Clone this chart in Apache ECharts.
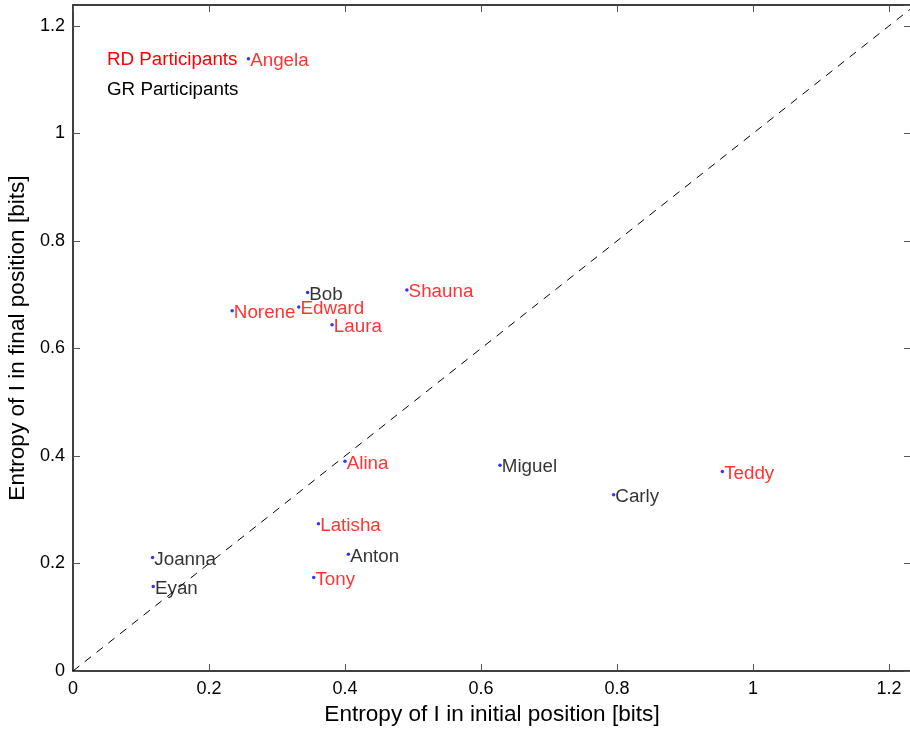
<!DOCTYPE html>
<html>
<head>
<meta charset="utf-8">
<script src="https://cdn.jsdelivr.net/npm/echarts@6/dist/echarts.min.js"></script>
<style>html,body{margin:0;padding:0;background:#fff}#c{width:910px;height:731px}</style>
</head>
<body>
<div id="c"></div>
<script>
const rdNames = ['Angela','Norene','Edward','Laura','Shauna','Alina','Latisha','Tony','Teddy'];
const rdX = [0.258, 0.234, 0.332, 0.381, 0.491, 0.400, 0.361, 0.354, 0.955];
const rdY = [1.139, 0.670, 0.677, 0.644, 0.709, 0.390, 0.274, 0.174, 0.371];
const grNames = ['Bob','Joanna','Eyan','Anton','Miguel','Carly'];
const grX = [0.345, 0.117, 0.118, 0.405, 0.628, 0.795];
const grY = [0.704, 0.211, 0.157, 0.217, 0.383, 0.328];
const diagX = [0, 1.3];
const diagY = [0, 1.3];
const xTicks = [0, 0.2, 0.4, 0.6, 0.8, 1, 1.2];
const yTicks = [0, 0.2, 0.4, 0.6, 0.8, 1, 1.2];
const xTitle = 'Entropy of I in initial position [bits]';
const yTitle = 'Entropy of I in final position [bits]';
const notes = ['RD Participants', 'GR Participants'];

const FONT = 'Liberation Sans, Arial, sans-serif';
const chart = echarts.init(document.getElementById('c'), null, {renderer: 'canvas'});
function pts(names, xs, ys){ return names.map((n,i)=>({name:n, value:[xs[i], ys[i]]})); }
const fmt = v => { const r = Math.round(v*10)/10; return xTicks.concat(yTicks).some(t=>Math.abs(t-v)<1e-6) ? String(r) : ''; };
const tickStyle = {show:true, inside:true, length:7, lineStyle:{color:'#555', width:1}};
const lineStyle = {color:'#000', width:1.5};
chart.setOption({
  animation:false,
  backgroundColor:'#fff',
  grid:{left:73, top:5, right:-1, bottom:60, containLabel:false, outerBoundsMode:'none'},
  xAxis:[
    {type:'value', min:0, max:1.2324, interval:0.2, position:'bottom',
     axisLine:{show:true, onZero:false, lineStyle}, axisTick:tickStyle,
     axisLabel:{show:true, formatter:fmt, color:'#000', fontSize:18, fontFamily:FONT, margin:9, showMaxLabel:false},
     splitLine:{show:false},
     name:xTitle, nameLocation:'middle', nameGap:31, nameTextStyle:{color:'#000', fontSize:22.6, fontFamily:FONT}},
    {type:'value', min:0, max:1.2324, interval:0.2, position:'top',
     axisLine:{show:true, onZero:false, lineStyle}, axisTick:tickStyle, axisLabel:{show:false}, splitLine:{show:false}}
  ],
  yAxis:[
    {type:'value', min:0, max:1.239, interval:0.2, position:'left',
     axisLine:{show:true, onZero:false, lineStyle}, axisTick:tickStyle,
     axisLabel:{show:true, formatter:fmt, color:'#000', fontSize:18, fontFamily:FONT, margin:8, showMaxLabel:false},
     splitLine:{show:false},
     name:yTitle, nameLocation:'middle', nameGap:44, nameTextStyle:{color:'#000', fontSize:22.6, fontFamily:FONT}},
    {type:'value', min:0, max:1.239, interval:0.2, position:'right',
     axisLine:{show:true, onZero:false, lineStyle}, axisTick:tickStyle, axisLabel:{show:false}, splitLine:{show:false}}
  ],
  series:[
    {type:'line', data:diagX.map((x,i)=>[x, diagY[i]]), symbol:'none', clip:true, silent:true,
     lineStyle:{color:'#000', width:1, type:[8,7]}},
    {type:'scatter', data:pts(rdNames, rdX, rdY), symbol:'circle', symbolSize:3.5,
     itemStyle:{color:'#0000ff'},
     label:{show:true, position:'right', distance:0, offset:[0,2], formatter:'{b}', color:'#ff0000', fontSize:18.8, fontFamily:FONT}},
    {type:'scatter', data:pts(grNames, grX, grY), symbol:'circle', symbolSize:3.5,
     itemStyle:{color:'#0000ff'},
     label:{show:true, position:'right', distance:0, offset:[0,2], formatter:'{b}', color:'#000', fontSize:18.8, fontFamily:FONT}}
  ],
  graphic:[
    {type:'text', left:107, top:50, style:{text:notes[0], fill:'#ff0000', font:'18.8px '+FONT}},
    {type:'text', left:107, top:80, style:{text:notes[1], fill:'#000', font:'18.8px '+FONT}}
  ]
});
</script>
</body>
</html>
